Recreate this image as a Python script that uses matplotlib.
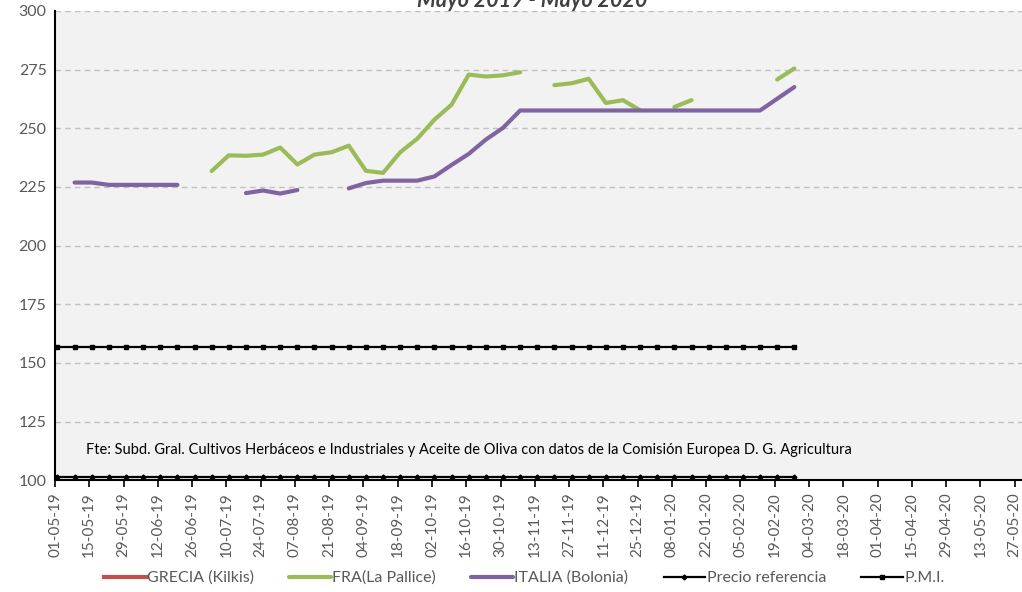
import numpy as np
import matplotlib.pyplot as plt
import matplotlib.dates as mdates
from datetime import date, timedelta

plt.rcParams['font.family'] = ['Lato', 'DejaVu Sans']

# weekly quotations, 02-05-19 .. 27-02-20 (44 weeks)
start = date(2019, 5, 2)
fechas = [start + timedelta(days=7 * k) for k in range(44)]
nan = np.nan

grecia = [nan] * 44

fra = [nan, nan, nan, nan, nan, nan, nan, nan, nan, 231.8,
       238.5, 238.3, 238.8, 241.8, 234.6, 238.8, 239.8, 242.6, 231.9, 231.0,
       239.8, 245.6, 253.7, 260.1, 272.9, 272.1, 272.6, 273.9, nan, 268.4,
       269.2, 271.1, 260.8, 262.0, 257.7, nan, 259.1, 262.0, nan, nan,
       nan, nan, 270.8, 275.5]

italia = [nan, 226.9, 226.9, 225.9, 225.9, 225.9, 225.9, 225.9, nan, nan,
          nan, 222.4, 223.5, 222.2, 223.7, nan, nan, 224.4, 226.7, 227.7,
          227.7, 227.7, 229.5, 234.4, 239.1, 245.2, 250.2, 257.6, 257.6, 257.6,
          257.6, 257.6, 257.6, 257.6, 257.6, 257.6, 257.6, 257.6, 257.6, 257.6,
          257.6, 257.6, 262.6, 267.6]

precio_ref = [101.31] * 44
pmi = [157.0] * 44

series_labels = ['GRECIA (Kilkis)', 'FRA(La Pallice)', 'ITALIA (Bolonia)',
                 'Precio referencia', 'P.M.I.']
titulo = 'Mayo 2019 - Mayo 2020'
fuente = ('Fte: Subd. Gral. Cultivos Herbáceos e Industriales y Aceite de Oliva '
          'con datos de la Comisión Europea D. G. Agricultura')

fig = plt.figure(figsize=(10.22, 5.92), dpi=100)
ax = fig.add_axes([55 / 1022, 1 - 480.3 / 592, 967 / 1022, 469.3 / 592])
ax.set_facecolor('#F2F2F2')

ax.plot(fechas, grecia, color='#C0504D', lw=3, label=series_labels[0])
ax.plot(fechas, fra, color='#9BBB59', lw=3, label=series_labels[1],
        solid_capstyle='round')
ax.plot(fechas, italia, color='#8064A2', lw=3, label=series_labels[2],
        solid_capstyle='round')
ax.plot(fechas, precio_ref, color='black', lw=1.6, marker='D', ms=2.5,
        label=series_labels[3])
ax.plot(fechas, pmi, color='black', lw=1.6, marker='s', ms=2.5,
        label=series_labels[4])

ax.set_ylim(100, 300)
ax.set_yticks(range(100, 301, 25))
ax.yaxis.grid(True, color='#C0C0C0', ls=(0, (4, 3)), lw=1)
ax.set_axisbelow(True)

x0 = date(2019, 5, 1)
ax.set_xlim(x0, x0 + timedelta(days=395))
ticks = [x0 + timedelta(days=14 * i) for i in range(29)]
ax.set_xticks(ticks)
ax.xaxis.set_major_formatter(mdates.DateFormatter('%d-%m-%y'))
ax.tick_params(axis='x', labelrotation=90, labelsize=11, colors='#595959',
               length=5, color='black', width=1.2)
ax.tick_params(axis='y', labelsize=11.5, colors='#595959', length=0, pad=6)

for s in ['top', 'right']:
    ax.spines[s].set_visible(False)
ax.spines['left'].set_linewidth(1.5)
ax.spines['bottom'].set_linewidth(1.5)

ax.text(0.032, 0.056, fuente, transform=ax.transAxes, fontsize=10.5,
        color='black')

# title sits partly above the canvas, as in the original export
fig.text(532 / 1022, 1 - 7 / 592, titulo, ha='center', va='baseline',
         fontsize=15.5, fontweight='bold', fontstyle='italic', color='#404040')

fig.legend(loc='center', bbox_to_anchor=(0.513, 1 - 578 / 592), ncol=5,
           frameon=False, fontsize=11.5, handlelength=2.6, handletextpad=0.1,
           columnspacing=2.2, labelcolor='#595959')

fig.savefig('out.png', dpi=100)
